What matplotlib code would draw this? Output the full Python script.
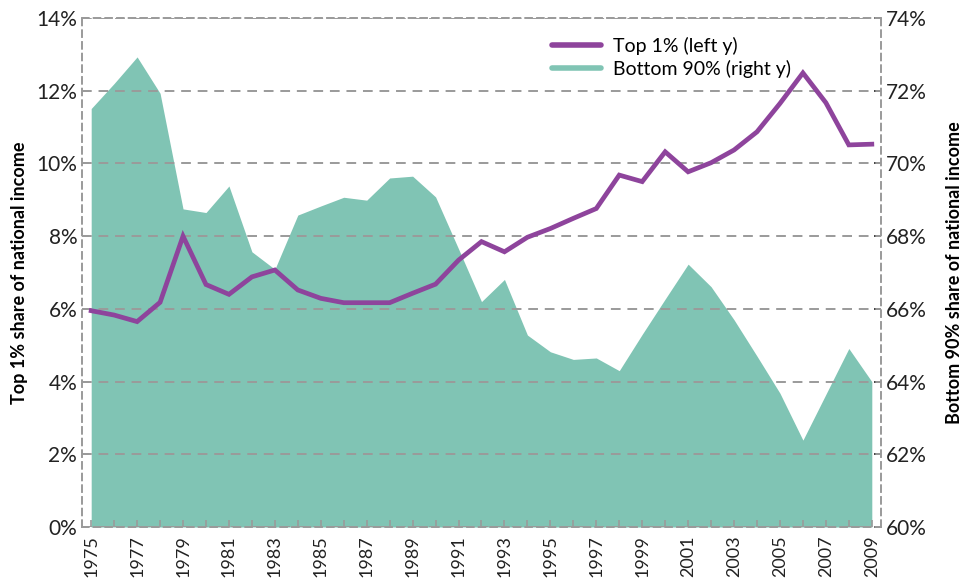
import matplotlib
matplotlib.use("Agg")
import matplotlib.pyplot as plt
from matplotlib.lines import Line2D
from matplotlib.ticker import FuncFormatter

years = list(range(1975, 2010))

# top 1% share of national income (left axis, %)
top1 = [5.95, 5.83, 5.65, 6.18, 8.0, 6.67, 6.4, 6.88, 7.07, 6.52,
        6.29, 6.17, 6.17, 6.17, 6.43, 6.68, 7.34, 7.85, 7.57, 7.97,
        8.21, 8.49, 8.76, 9.68, 9.5, 10.32, 9.77, 10.02, 10.37, 10.87,
        11.65, 12.49, 11.67, 10.51, 10.53]

# bottom 90% share of national income (right axis, %)
bottom90 = [71.51, 72.2, 72.93, 71.93, 68.75, 68.65, 69.38, 67.57, 67.09, 68.58,
            68.83, 69.07, 68.99, 69.6, 69.65, 69.08, 67.65, 66.2, 66.81, 65.28,
            64.82, 64.61, 64.65, 64.3, 65.3, 66.27, 67.23, 66.61, 65.7, 64.7,
            63.68, 62.39, 63.65, 64.91, 64.0]

left_ticks = [0, 2, 4, 6, 8, 10, 12, 14]
right_ticks = [60, 62, 64, 66, 68, 70, 72, 74]

PURPLE = "#8e449c"
TEAL = "#80c4b4"
GRID = "#9a9a9a"
TEXT = "#222222"

plt.rcParams["font.family"] = ["Lato", "DejaVu Sans"]

fig = plt.figure(figsize=(9.74, 5.85), dpi=100)
ax = fig.add_axes([0.0842, 0.0991, 0.8203, 0.8701])
ax2 = ax.twinx()

ax2.fill_between(years, bottom90, 60, color=TEAL, lw=0, zorder=1)
ax2.set_ylim(60, 74)
ax2.set_yticks(right_ticks)

ax.plot(years, top1, color=PURPLE, lw=3.4, solid_joinstyle="miter", zorder=3)
ax.set_ylim(0, 14)
ax.set_yticks(left_ticks)
ax.set_xlim(1974.6, 2009.4)

# left axes on top so the line and grid sit over the area
ax.set_zorder(ax2.get_zorder() + 1)
ax.patch.set_visible(False)

ax.grid(axis="y", color=GRID, ls=(0, (5, 3.5)), lw=1.4)
ax.grid(axis="x", visible=False)

pct = FuncFormatter(lambda v, _: f"{v:.0f}%")
ax.yaxis.set_major_formatter(pct)
ax2.yaxis.set_major_formatter(pct)

ax.set_xticks(years)
ax.set_xticklabels([str(y) if y % 2 == 1 else "" for y in years],
                   rotation=90, fontsize=13, color=TEXT)

for a in (ax, ax2):
    for s in a.spines.values():
        s.set_color(GRID)
        s.set_linestyle((0, (4, 3)))
        s.set_linewidth(1.2)
    a.tick_params(direction="in", length=5, color=GRID, width=1.2)
    a.tick_params(axis="y", labelsize=15, colors=TEXT)
ax.tick_params(axis="y", color=GRID)
ax.tick_params(axis="x", pad=6, color=GRID, labelcolor=TEXT)

ax.set_ylabel("Top 1% share of national income", fontsize=13,
              fontweight="bold", labelpad=6)
ax2.set_ylabel("Bottom 90% share of national income", fontsize=13,
               fontweight="bold", labelpad=14)

handles = [Line2D([], [], color=PURPLE, lw=4, solid_capstyle="round"),
           Line2D([], [], color=TEAL, lw=4, solid_capstyle="round")]
fig.legend(handles, ["Top 1% (left y)", "Bottom 90% (right y)"],
           loc="upper left", bbox_to_anchor=(0.549, 0.967), frameon=False,
           fontsize=14, handlelength=2.5, handletextpad=0.6,
           labelspacing=0.25)

fig.savefig("out.png", dpi=100)
